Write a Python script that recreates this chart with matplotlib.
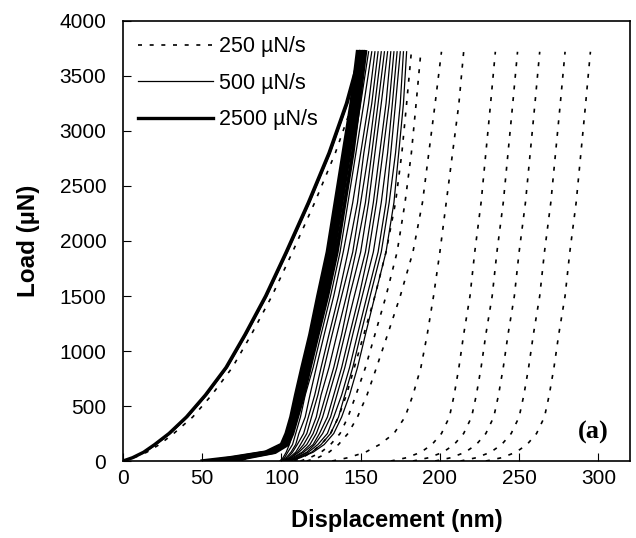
import matplotlib
matplotlib.use('Agg')
import matplotlib.pyplot as plt

plt.rcParams['font.family'] = ['Liberation Sans', 'DejaVu Sans']

# load levels (uN) shared by every curve
loads = [0, 30, 80, 150, 250, 400, 600, 850, 1150, 1500, 1900, 2350, 2800, 3250, 3720]

# first indents (all three rates lie on top of each other)
first_250 = [0, 7, 15, 23, 32, 44, 56, 69, 81, 94, 107, 121, 134, 145, 152]
first_500 = [0, 6.5, 14, 21, 30, 41, 53, 66, 78, 91, 104, 118, 131, 142, 151]
first_2500 = [0, 6, 13, 20, 29, 40, 52, 65, 77, 90, 103, 117, 130, 141, 150]

# 2500 uN/s, later indents (dense band)
fast_runs = [
    [50, 68, 90, 100, 103, 106, 109, 113, 118, 123, 129, 134, 139, 144, 148],
    [55, 70, 91, 101, 104, 107, 110, 114, 119, 124, 130, 135, 140, 145, 149],
    [60, 72, 92, 101, 104.5, 108, 111, 115, 120, 125, 131, 136, 141, 146, 150],
    [64, 74, 93, 102, 105, 108.5, 112, 116, 121, 126, 132, 137, 142, 147, 151],
    [68, 76, 95, 103, 106, 109, 113, 117, 122, 127, 133, 138, 143, 147.5, 152],
    [72, 78, 96, 104, 107, 110, 114, 118, 123, 129, 135, 140, 145, 149, 153],
]

# 500 uN/s, later indents
mid_runs = [
    [99, 101, 103, 105, 107, 110, 113, 117, 122, 128, 134, 140, 145, 150, 155],
    [100, 102, 104, 107, 109, 112, 115, 120, 125, 131, 137, 142, 147, 152, 157],
    [100, 103, 106, 109, 111, 115, 118, 122, 127, 133, 139, 145, 150, 155, 159],
    [101, 104, 107, 110, 114, 117, 121, 125, 130, 136, 142, 148, 152, 157, 161],
    [101, 105, 109, 112, 116, 119, 123, 127, 132, 138, 145, 150, 155, 159, 163],
    [102, 106, 110, 114, 118, 122, 125, 130, 135, 141, 147, 153, 157, 161, 165],
    [102, 106, 111, 116, 120, 124, 128, 133, 138, 143, 150, 155, 159, 163, 167],
    [103, 107, 113, 118, 122, 126, 130, 135, 140, 146, 153, 158, 162, 166, 169],
    [104, 108, 114, 120, 124, 129, 133, 138, 143, 149, 155, 160, 164, 168, 171],
    [104, 109, 116, 121, 126, 131, 135, 140, 145, 151, 158, 163, 167, 170, 173],
    [105, 110, 117, 123, 129, 133, 138, 143, 148, 154, 161, 166, 169, 172, 175],
    [105, 111, 119, 125, 131, 136, 140, 145, 150, 156, 163, 168, 172, 175, 177],
    [106, 112, 120, 127, 133, 138, 143, 148, 153, 159, 166, 171, 174, 177, 179],
]

# 250 uN/s, later indents
slow_runs = [
    [108, 113, 119, 125, 131, 136, 141, 146, 152, 159, 166, 172, 176, 179, 182],
    [112, 118, 125, 131, 137, 142, 147, 153, 159, 166, 173, 178, 182, 185, 188],
    [116, 123, 130, 136, 142, 148, 154, 160, 167, 175, 183, 189, 193, 197, 201],
    [132, 142, 153, 162, 171, 178, 183, 188, 192, 196, 200, 204, 208, 212, 215],
    [169, 179, 188, 195, 201, 206, 209, 212, 215, 219, 222, 226, 229, 232, 235],
    [183, 193, 202, 209, 215, 220, 223, 226, 229, 233, 236, 240, 243, 246, 249],
    [197, 207, 216, 223, 229, 234, 237, 240, 243, 247, 250, 254, 257, 260, 263],
    [213, 223, 232, 239, 245, 250, 253, 256, 259, 263, 266, 270, 273, 276, 279],
    [229, 239, 248, 255, 261, 266, 269, 272, 275, 279, 282, 286, 289, 292, 295],
]

rate_labels = ['250 \u00b5N/s', '500 \u00b5N/s', '2500 \u00b5N/s']

dot_style = (0, (2.4, 4.6))

fig = plt.figure(figsize=(6.36, 5.38), dpi=100)
ax = fig.add_axes([0.1934, 0.1431, 0.7972, 0.8179])

for run in slow_runs:
    ax.plot(run, loads, color='black', lw=1.2, ls=dot_style)
ax.plot(first_250, loads, color='black', lw=1.2, ls=dot_style, label=rate_labels[0])

for run in mid_runs:
    ax.plot(run, loads, color='black', lw=0.9)
ax.plot(first_500, loads, color='black', lw=0.9, label=rate_labels[1])

for run in fast_runs:
    ax.plot(run, loads, color='black', lw=2.6)
ax.plot(first_2500, loads, color='black', lw=2.4, label=rate_labels[2])

ax.set_xlim(0, 320)
ax.set_ylim(0, 4000)
ax.set_xticks([0, 50, 100, 150, 200, 250, 300])
ax.set_yticks(range(0, 4001, 500))
ax.tick_params(direction='in', length=6, width=0.8, labelsize=15)
ax.tick_params(axis='x', pad=6)
ax.tick_params(axis='y', pad=12)
for s in ax.spines.values():
    s.set_linewidth(1.2)

ax.set_xlabel('Displacement (nm)', fontsize=17, fontweight='bold')
ax.xaxis.set_label_coords(0.54, -0.108)
ax.set_ylabel('Load (\u00b5N)', fontsize=17.5, fontweight='bold', labelpad=14)

ax.legend(loc='upper left', frameon=False, fontsize=15.5, handlelength=3.5,
          handletextpad=0.28, labelspacing=0.72, borderaxespad=0.3)

ax.text(0.927, 0.066, '(a)', transform=ax.transAxes, fontsize=19,
        fontweight='bold', family='Liberation Serif', ha='center', va='center')

fig.savefig('out.png', dpi=100)
